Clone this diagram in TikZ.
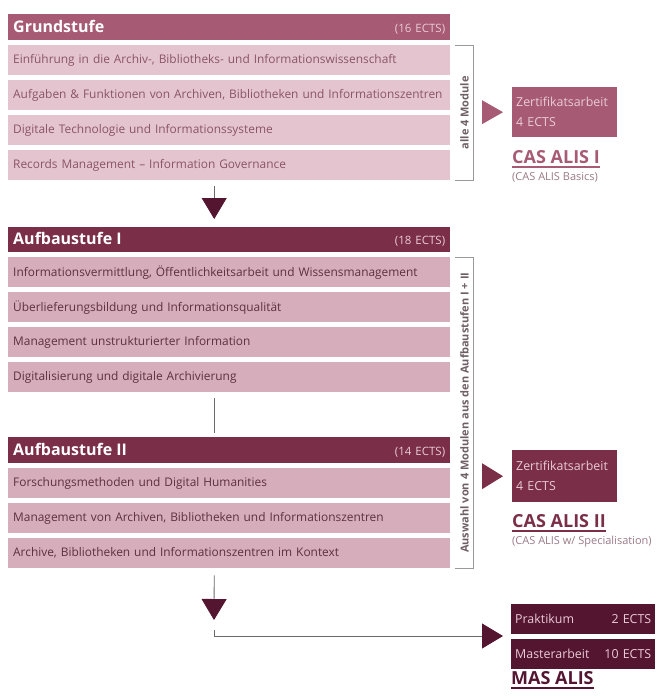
\documentclass[tikz,border=0pt]{standalone}
\usepackage{fontspec}
\setmainfont{Open Sans}
\usepackage{tikz}
\usetikzlibrary{arrows.meta,calc}

\definecolor{mauve}{HTML}{A65A74}
\definecolor{wine}{HTML}{7A2E48}
\definecolor{darkwine}{HTML}{541530}
\definecolor{grundrow}{HTML}{E4C5CF}
\definecolor{aufrow}{HTML}{D6ADBA}
\definecolor{grundtext}{HTML}{8A5566}
\definecolor{auftext}{HTML}{5E3040}
\definecolor{paletext}{HTML}{EACBD5}
\definecolor{linkgray}{HTML}{6A6A6A}
\definecolor{sidegray}{HTML}{6E5F66}
\definecolor{subtext}{HTML}{9A7A88}

\begin{document}
\begin{tikzpicture}[x=1pt,y=-1pt]
    \useasboundingbox (0,0) rectangle (660,696);

    \begin{scope}[every node/.style={anchor=north west,inner xsep=5pt,inner ysep=0pt,
                  text width=432pt,minimum height=30pt,font=\fontsize{11.9}{14}\selectfont}]
        \node[fill=mauve,minimum height=26pt,text=white] (GH) at (8,14)
            {{\fontsize{16}{18}\selectfont\bfseries Grundstufe}\hfill{\fontsize{11.5}{14}\selectfont\color{paletext}(16 ECTS)}};
        \node[fill=grundrow,text=grundtext] (G1) at (8,45) {Einführung in die Archiv-, Bibliotheks- und Informationswissenschaft};
        \node[fill=grundrow,text=grundtext] (G2) at (8,80) {Aufgaben \& Funktionen von Archiven, Bibliotheken und Informationszentren};
        \node[fill=grundrow,text=grundtext] (G3) at (8,115) {Digitale Technologie und Informationssysteme};
        \node[fill=grundrow,text=grundtext] (G4) at (8,150) {Records Management – Information Governance};

        \node[fill=wine,minimum height=25pt,text=white] (AH1) at (8,227)
            {{\fontsize{16}{18}\selectfont\bfseries Aufbaustufe I}\hfill{\fontsize{11.5}{14}\selectfont\color{paletext}(18 ECTS)}};
        \node[fill=aufrow,text=auftext] (A1) at (8,257) {Informationsvermittlung, Öffentlichkeitsarbeit und Wissensmanagement};
        \node[fill=aufrow,text=auftext] (A2) at (8,292) {Überlieferungsbildung und Informationsqualität};
        \node[fill=aufrow,text=auftext] (A3) at (8,327) {Management unstrukturierter Information};
        \node[fill=aufrow,text=auftext] (A4) at (8,362) {Digitalisierung und digitale Archivierung};

        \node[fill=wine,minimum height=26pt,text=white] (AH2) at (8,437)
            {{\fontsize{16}{18}\selectfont\bfseries Aufbaustufe II}\hfill{\fontsize{11.5}{14}\selectfont\color{paletext}(14 ECTS)}};
        \node[fill=aufrow,text=auftext] (B1) at (8,468) {Forschungsmethoden und Digital Humanities};
        \node[fill=aufrow,text=auftext] (B2) at (8,503) {Management von Archiven, Bibliotheken und Informationszentren};
        \node[fill=aufrow,text=auftext] (B3) at (8,538) {Archive, Bibliotheken und Informationszentren im Kontext};
    \end{scope}

    \begin{scope}[every node/.style={anchor=north west,inner xsep=4pt,inner ysep=0pt,
                  text width=97pt,align=left,text=paletext,font=\fontsize{12.4}{20}\selectfont}]
        \node[fill=mauve,minimum height=50pt] (Z1) at (512,87) {Zertifikatsarbeit\\4 ECTS};
        \node[fill=wine,minimum height=52pt] (Z2) at (512,450) {Zertifikatsarbeit\\4 ECTS};
        \node[fill=darkwine,minimum height=30pt,text width=136pt] (P) at (511,604) {Praktikum\hfill 2 ECTS};
        \node[fill=darkwine,minimum height=30pt,text width=136pt] (M) at (511,639) {Masterarbeit\hfill 10 ECTS};
    \end{scope}

    \begin{scope}[every node/.style={anchor=west,inner sep=0pt}]
        \node[text=mauve,font=\fontsize{18}{20}\selectfont\bfseries] (C1) at (512,157) {CAS ALIS I};
        \node[text=subtext,font=\fontsize{11}{13}\selectfont] (S1) at (512,177) {(CAS ALIS Basics)};
        \node[text=wine,font=\fontsize{18}{20}\selectfont\bfseries] (C2) at (512,521) {CAS ALIS II};
        \node[text=subtext,font=\fontsize{11}{13}\selectfont] (S2) at (512,542) {(CAS ALIS w/ Specialisation)};
        \node[text=darkwine,font=\fontsize{18}{20}\selectfont\bfseries] (MA) at (511,678) {MAS ALIS};
    \end{scope}
    \draw[mauve,line width=2pt] ([yshift=-4pt]C1.base west) -- ([yshift=-4pt]C1.base east);
    \draw[wine,line width=2pt] ([yshift=-4pt]C2.base west) -- ([yshift=-4pt]C2.base east);
    \draw[darkwine,line width=2pt] ([yshift=-4pt]MA.base west) -- ([yshift=-4pt]MA.base east);

    \begin{scope}[every path/.style={draw=gray!80,line width=0.6pt},
                  every node/.style={rotate=90,text=sidegray,font=\fontsize{11}{13}\selectfont\bfseries}]
        \draw ([xshift=5pt]G1.north east) -| ([xshift=23pt]G4.south east) -- ([xshift=5pt]G4.south east);
        \node at ($(G1.north east)!0.5!(G4.south east)+(14,0)$) {alle 4 Module};
        \draw ([xshift=5pt]A1.north east) -| ([xshift=23pt]B3.south east) -- ([xshift=5pt]B3.south east);
        \node at ($(A1.north east)!0.5!(B3.south east)+(14,0)$) {Auswahl von 4 Modulen aus den Aufbaustufen I + II};
    \end{scope}

    \fill[mauve] ([xshift=-30pt,yshift=12pt]Z1.west) -- ([xshift=-9pt]Z1.west) -- ([xshift=-30pt,yshift=-12pt]Z1.west) -- cycle;
    \fill[wine] ([xshift=-30pt,yshift=13pt]Z2.west) -- ([xshift=-9pt]Z2.west) -- ([xshift=-30pt,yshift=-13pt]Z2.west) -- cycle;

    \coordinate (K) at (214,636);
    \coordinate (L) at ([xshift=-8pt]P.west);
    \begin{scope}[>={Triangle[width=25pt,length=21pt,color=darkwine]},
                  every path/.style={draw=linkgray,line width=0.8pt}]
        \draw[->] ([xshift=-15pt,yshift=-6pt]G4.south) -- ([xshift=-15pt,yshift=8pt]AH1.north);
        \draw[-] ([xshift=-15pt,yshift=-6pt]A4.south) -- ([xshift=-15pt,yshift=4pt]AH2.north);
        \draw[->] ([xshift=-15pt,yshift=-7pt]B3.south) -- ([yshift=16pt]K);
        \draw[->] ([yshift=6pt]K) -- (K) -- (L |- K);
    \end{scope}
\end{tikzpicture}
\end{document}
